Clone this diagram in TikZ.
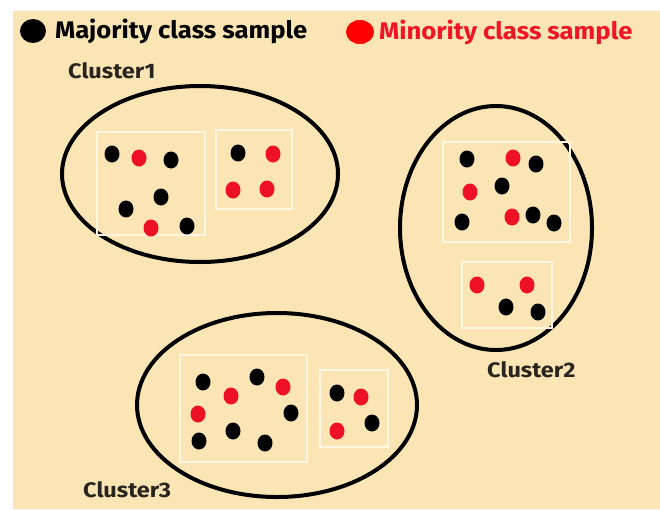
\documentclass[tikz,border=0pt]{standalone}
\usepackage{fontspec}
\setmainfont{Fira Sans}
\usetikzlibrary{shapes.geometric}
\definecolor{bg}{RGB}{252,229,180}
\definecolor{boxline}{RGB}{255,246,228}
\definecolor{redpt}{RGB}{238,16,36}
\definecolor{redtxt}{RGB}{240,20,40}
\definecolor{labgray}{RGB}{40,36,30}
\tikzset{
  pt/.style={ellipse, minimum width=15pt, minimum height=17pt, inner sep=0pt},
  bpt/.style={pt, fill=black},
  rpt/.style={pt, fill=redpt},
  sbox/.style={draw=boxline, line width=2.5pt},
  cluster/.style={draw=black, line width=4pt},
  legend/.style={font=\bfseries\fontsize{24}{24}\selectfont, anchor=west, inner sep=0pt},
  clab/.style={font=\bfseries\fontsize{21}{21}\selectfont, text=labgray, anchor=west, inner sep=0pt},
}
\begin{document}
\begin{tikzpicture}[x=1pt,y=-1pt]
\useasboundingbox (0,0) rectangle (660,509);
\fill[bg] (13,11) rectangle (660,509);
% legend
\node[pt, fill=black, minimum width=26pt, minimum height=24pt] (lb) at (33,31) {};
\node[legend, text=black] (lbt) at (55,31) {\scalebox{1.07}[1]{Majority class sample}};
\node[pt, fill=red, minimum width=28pt, minimum height=24pt] (lr) at (360,32) {};
\node[legend, text=redtxt] (lrt) at (379,32) {\scalebox{1.07}[1]{Minority class sample}};
% Cluster 1
\node[clab] (c1l) at (68,71) {\scalebox{1.12}[1]{Cluster1}};
\draw[cluster] (200,174) ellipse [x radius=138, y radius=88];
\draw[sbox] (97,132) rectangle (205,235);
\draw[sbox] (216,130) rectangle (292,209);
\node[bpt] (a1) at (112,154) {};
\node[rpt] (a2) at (139,158) {};
\node[bpt] (a3) at (171,160) {};
\node[bpt] (a4) at (161,197) {};
\node[bpt] (a5) at (126,209) {};
\node[rpt] (a6) at (151,228) {};
\node[bpt] (a7) at (187,226) {};
\node[bpt] (a8) at (238,153) {};
\node[rpt] (a9) at (273,154) {};
\node[rpt] (a10) at (233,190) {};
\node[rpt] (a11) at (267,189) {};
% Cluster 2
\draw[cluster] (496,228) ellipse [x radius=96, y radius=122];
\draw[sbox] (443,142) rectangle (570,242);
\draw[sbox] (462,262) rectangle (552,328);
\node[bpt] (b1) at (467,159) {};
\node[rpt] (b2) at (513,158) {};
\node[bpt] (b3) at (536,164) {};
\node[rpt] (b4) at (470,192) {};
\node[bpt] (b5) at (502,186) {};
\node[bpt] (b6) at (462,222) {};
\node[rpt] (b7) at (512,217) {};
\node[bpt] (b8) at (533,215) {};
\node[bpt] (b9) at (554,223) {};
\node[rpt] (b10) at (477,285) {};
\node[rpt] (b11) at (527,285) {};
\node[bpt] (b12) at (506,307) {};
\node[bpt] (b13) at (538,312) {};
\node[clab] (c2l) at (487,370) {\scalebox{1.12}[1]{Cluster2}};
% Cluster 3
\draw[cluster] (277,405) ellipse [x radius=140, y radius=92];
\draw[sbox] (180,355) rectangle (307,462);
\draw[sbox] (320,370) rectangle (388,447);
\node[bpt] (d1) at (203,382) {};
\node[rpt] (d2) at (231,396) {};
\node[bpt] (d3) at (257,377) {};
\node[rpt] (d4) at (283,387) {};
\node[rpt] (d5) at (198,414) {};
\node[bpt] (d6) at (291,413) {};
\node[bpt] (d7) at (199,441) {};
\node[bpt] (d8) at (233,431) {};
\node[bpt] (d9) at (265,443) {};
\node[bpt] (d10) at (337,393) {};
\node[rpt] (d11) at (361,397) {};
\node[rpt] (d12) at (337,431) {};
\node[bpt] (d13) at (372,423) {};
\node[clab] (c3l) at (83,490) {\scalebox{1.12}[1]{Cluster3}};
\end{tikzpicture}
\end{document}
